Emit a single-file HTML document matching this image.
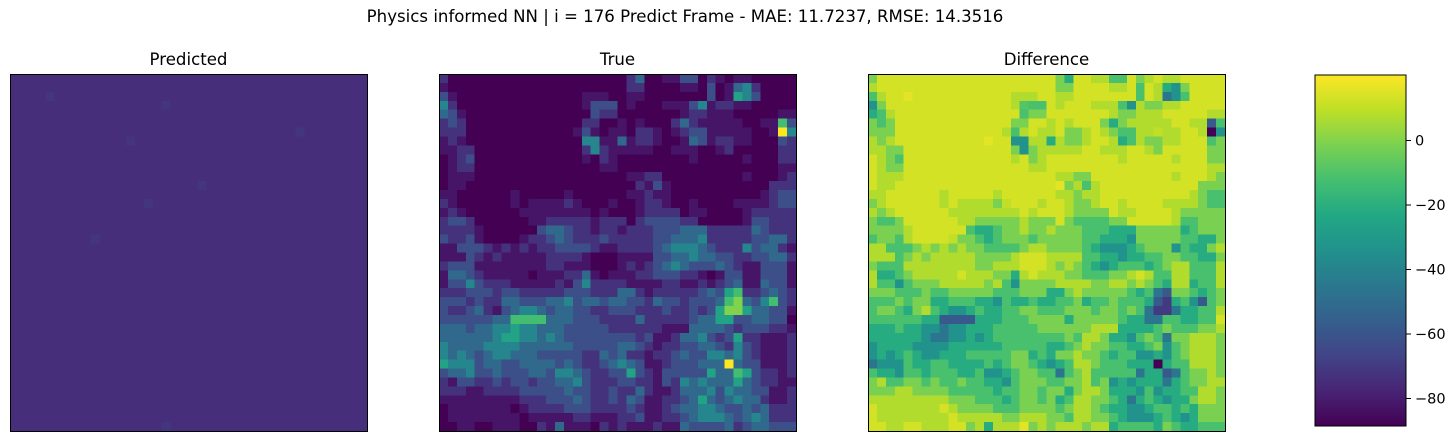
<!DOCTYPE html>
<html><head><meta charset="utf-8"><style>
html,body{margin:0;padding:0;background:#fff;}
body{width:1454px;height:441px;position:relative;overflow:hidden;font-family:"Liberation Sans","DejaVu Sans",sans-serif;}
svg text{font-family:"DejaVu Sans","Liberation Sans",sans-serif;fill:#000;}
</style></head><body>
<svg id="chart" width="1454" height="441" xmlns="http://www.w3.org/2000/svg" shape-rendering="crispEdges">
<text x="685" y="22" font-size="16.6" text-anchor="middle">Physics informed NN | i = 176 Predict Frame - MAE: 11.7237, RMSE: 14.3516</text>
<text x="188.5" y="65" font-size="16.6" text-anchor="middle">Predicted</text>
<text x="617.5" y="65" font-size="16.6" text-anchor="middle">True</text>
<text x="1046.5" y="65" font-size="16.6" text-anchor="middle">Difference</text>
<g id="cells"></g>
<g id="frames"></g>
<defs><linearGradient id="cbgrad" x1="0" y1="1" x2="0" y2="0"></linearGradient></defs>
<rect x="1315" y="75" width="91" height="351" fill="url(#cbgrad)" stroke="#000" stroke-width="1"/>
<g id="cbticks"></g>
</svg>
<script>
// True field levels (0-9), 40x40
const trueRows = [
"2000000000000000000002400113302101100000",
"1000000000000000000002200001103014520000",
"3100000000000000111001100000003016530000",
"5200000000000000133301000111351221100000",
"4310000000000000032200000001221110000011",
"2320000000000000220010100024211111001173",
"2220000000000001310110221012331111100195",
"1210000000000000551141221001431221100032",
"1122000000000000252111110011100120000022",
"0123000000000000102100000000100000100022",
"0122000000000000001100000000000000000011",
"0111000000000000000001122000000000100012",
"0110000000000000000000213100000000000222",
"1100000010000010000001121100000000001233",
"2100000010111121000100122100100001111233",
"1210000001111111101000122220110000122222",
"2332000000112222212220233332200000133222",
"2222100000034432212212223334442222243222",
"3223100001223432223222223344452222233442",
"1133321212122333321122223455543222534421",
"1113212111112222100011113344544332233442",
"2333111111112211100012123454333432113331",
"1443211111011122410111223332210133113331",
"1335322211111213522221111221121234114331",
"2223332332222233322244212222234367223432",
"3332322443334453443443324332333478435732",
"3223421345543443322333222322323688644331",
"3333334477774443332222422222344663344330",
"4443445565544433333222222111444432333221",
"4444445665545433333333231124453236221112",
"5444455554444443333344321223344325321112",
"5454345544433333224342212234335545321112",
"6555344334444343223454311233344494331112",
"3445334333443554322336321333336447632212",
"2133223233233445322233221325454446432211",
"2221122223333343322322421124445354433112",
"1111111112223334322324311223464345442112",
"0111111101222233322223211234455433434222",
"0111111110111112211122311223455543454222",
"0011001110021411102121112114333342344333"
];
// Predicted field small variations (0-3), 40x40
const predRows = [
"1111111111111111111111111111111111111111",
"1111111111111111111111111111111111111111",
"1111211111111111111111111111111111111111",
"1111111111111111121111111111111111111111",
"1111111111111111111111111111111111111111",
"1111111111111111111111111111111111111111",
"1111111111111111111111111111111121111111",
"1111111111111211111111111111111111111111",
"1111111111111111111111111111111111111111",
"1111111111111111111111111111111111111111",
"1111111111111111111111111111111111111111",
"1111111111111111111111111111111111111111",
"1111111111111111111112111111111111111111",
"1111111111111111111111111111111111111111",
"1111111111111112111111111111111111111111",
"1111111111111111111111111111111111111111",
"1111111111111111111111111111111111111111",
"1111111111111111111111111111111111111111",
"1111111112111111111111111111111111111111",
"1111111111111111111111111111111111111111",
"1111111111111111111111111111111111111111",
"1111111111111111111111111111111111111111",
"1111111111111111111111111111111111111111",
"1111111111111111111111111111111111111111",
"1111111111111111111111111111111111111111",
"1111111111111111111111111111111111111111",
"1111111111111111111111111111111111111111",
"1111111111111111111111111111111111111111",
"1111111111111111111111111111111111111111",
"1111111111111111111111111111111111111111",
"1111111111111111111111111111111111111111",
"1111111111111111111111111111111111111111",
"1111111111111111111111111111111111111111",
"1111111111111111111111111111111111111111",
"1111111111111111111111111111111111111111",
"1111111111111111111111111111111111111111",
"1111111111111111111111111111111111111111",
"1111111111111111111111111111111111111111",
"1111111111111111111111111111111111111111",
"1111111111111111121111111111111111111111"
];
// value of each true level digit (data units)
const trueLevelValues = [0, 6, 15, 25, 35, 47, 60, 72, 84, 103.5];
const cbTickValues = [0, -20, -40, -60, -80];
const cbTickLabels = ["0", "\u221220", "\u221240", "\u221260", "\u221280"];
const diffMin = -88.6, diffMax = 20.4;
const predBase = 11, predStep = 2.5, sharedMax = 103.5;

const VIR = ["#440154","#482475","#414487","#355f8d","#2a788e","#21918c","#22a884","#44bf70","#7ad151","#bddf26","#fde725"];
function hex(h){return [parseInt(h.substr(1,2),16),parseInt(h.substr(3,2),16),parseInt(h.substr(5,2),16)];}
function viridis(t){
  t=Math.max(0,Math.min(1,t));
  const p=t*10, i=Math.min(9,Math.floor(p)), f=p-i;
  const a=hex(VIR[i]), b=hex(VIR[i+1]);
  return "rgb("+a.map((v,k)=>Math.round(v+(b[k]-v)*f)).join(",")+")";
}
const NS="http://www.w3.org/2000/svg";
const cells=document.getElementById("cells");
const panels=[{x:10,name:"predicted"},{x:439,name:"true"},{x:868,name:"difference"}];
const PY=74, PS=357, N=40, cs=PS/N;
function trueVal(r,c){return trueLevelValues[+trueRows[r][c]||0];}
function predVal(r,c){return predBase+(+predRows[r][c]||0)*predStep;}
for(let r=0;r<N;r++){for(let c=0;c<N;c++){
  const tv=trueVal(r,c), pv=predVal(r,c), dv=pv-tv;
  const cols=[viridis(pv/sharedMax), viridis(tv/sharedMax), viridis((dv-diffMin)/(diffMax-diffMin))];
  for(let p=0;p<3;p++){
    const el=document.createElementNS(NS,"rect");
    el.setAttribute("x",(panels[p].x+c*cs).toFixed(2));
    el.setAttribute("y",(PY+r*cs).toFixed(2));
    el.setAttribute("width",(cs+0.6).toFixed(2));
    el.setAttribute("height",(cs+0.6).toFixed(2));
    el.setAttribute("fill",cols[p]);
    
    
    cells.appendChild(el);
  }
}}
const frames=document.getElementById("frames");
panels.forEach(pn=>{
  const el=document.createElementNS(NS,"rect");
  el.setAttribute("x",pn.x+0.5);el.setAttribute("y",PY+0.5);
  el.setAttribute("width",PS);el.setAttribute("height",PS);
  el.setAttribute("fill","none");el.setAttribute("stroke","#000");
  
  
  frames.appendChild(el);
});
const grad=document.getElementById("cbgrad");
for(let i=0;i<=10;i++){
  const s=document.createElementNS(NS,"stop");
  s.setAttribute("offset",(i*10)+"%");s.setAttribute("stop-color",VIR[i]);
  grad.appendChild(s);
}
const cbTop=75, cbBot=426, cbt=document.getElementById("cbticks");
function cbY(v){return cbBot-(v-diffMin)/(diffMax-diffMin)*(cbBot-cbTop);}
cbTickValues.forEach((v,i)=>{
  const y=cbY(v);
  const l=document.createElementNS(NS,"line");
  l.setAttribute("x1",1406);l.setAttribute("x2",1411);
  l.setAttribute("y1",y);l.setAttribute("y2",y);l.setAttribute("stroke","#000");
  
  
  cbt.appendChild(l);
  const t=document.createElementNS(NS,"text");
  t.setAttribute("x",1415);t.setAttribute("y",y+5);t.setAttribute("font-size","14.5");
  t.textContent=cbTickLabels[i];
  
  
  cbt.appendChild(t);
});
</script>
</body></html>
